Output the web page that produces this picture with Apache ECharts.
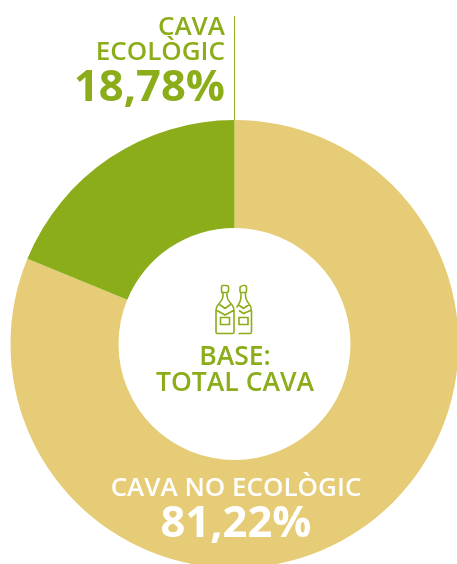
<!DOCTYPE html>
<html>
<head>
<meta charset="utf-8">
<style>
  html, body { margin: 0; padding: 0; background: #fff; }
  #chart { width: 457px; height: 564px; }
</style>
<script src="https://cdn.jsdelivr.net/npm/echarts@6/dist/echarts.min.js"></script>
</head>
<body>
<div id="chart"></div>
<script>
var categories = ['CAVA NO ECOLÒGIC', 'CAVA ECOLÒGIC']
var values = [81.22, 18.78]
var valueLabels = ['81,22%', '18,78%']
var baseLines = ['BASE:', 'TOTAL CAVA']

var GREEN = '#8bad1a'
var SAND = '#e6cc76'
var FONT = '"Open Sans", sans-serif'

// icon outlines, local coords start at the top left of the icon
var bottleLeft = 'M6 0.5h4.5q2 0 2 2v3q0 2-1.5 2v3.5q0 3 3 6.5 4 4 4 8v21.5q0 1.5-1.5 1.5h-15q-1.5 0-1.5-1.5v-21.5q0-4 4-8 3-3.5 3-6.5v-3.5q-1.5 0-1.5-2v-3q0-2 1.5-2z' +
  'M5 7.5h6M3.5 19.5l5.5 4 5.5-4M1 25.5l8 4.5 8.5-4.5' +
  'M4.5 32.5h9v7h-9z'
var bottleRight = 'M6.5 0.5h2q2 0 2 2v3q0 2-1 2v3.5q0 3 2.5 6.5 3.5 4 3.5 8v21.5q0 1.5-1.5 1.5h-11.5' +
  'M5.5 7.5h4M0.5 22.5q2.5-3 3.5-6 1-3 1-5v-3.5q-1-0.5-1-2v-3q0-2 2.5-2' +
  'M2 19.5l5.5 4 5.5-4M3 25.5l4.5 3 8-3.5M3 32.5h9v7h-9z'
echarts.graphic.registerShape('bottleLeft', echarts.graphic.extendPath(bottleLeft))
echarts.graphic.registerShape('bottleRight', echarts.graphic.extendPath(bottleRight))

var chart = echarts.init(document.getElementById('chart'), null, { renderer: 'canvas' })

chart.setOption({
  animation: false,
  backgroundColor: '#fff',
  series: [{
    type: 'pie',
    z: 1,
    center: [234.5, 344],
    radius: [116, 224],
    startAngle: 90,
    clockwise: true,
    silent: true,
    label: { show: false },
    labelLine: { show: false },
    data: categories.map(function(name, i) {
      return { name: name, value: values[i], itemStyle: { color: i === 0 ? SAND : GREEN } }
    })
  }],
  graphic: [
    { type: 'line', z: 10, shape: { x1: 234.5, y1: 16, x2: 234.5, y2: 120 }, style: { stroke: GREEN, lineWidth: 1 } },
    { type: 'text', z: 10, x: 225, y: 14.5, style: { text: categories[1].split(' ')[0], font: '600 26px ' + FONT, fill: GREEN, align: 'right' } },
    { type: 'text', z: 10, x: 225, y: 39.5, style: { text: categories[1].split(' ')[1], font: '600 26px ' + FONT, fill: GREEN, align: 'right' } },
    { type: 'text', z: 10, x: 225, y: 67, style: { text: valueLabels[1], font: '700 43.5px ' + FONT, fill: GREEN, align: 'right' } },
    { type: 'bottleLeft', z: 10, x: 216, y: 285, style: { fill: 'none', stroke: GREEN, lineWidth: 1.6 } },
    { type: 'bottleRight', z: 10, x: 236, y: 285, style: { fill: 'none', stroke: GREEN, lineWidth: 1.6 } },
    { type: 'text', z: 10, x: 235, y: 344, style: { text: baseLines[0], font: '600 26.5px ' + FONT, fill: GREEN, align: 'center' } },
    { type: 'text', z: 10, x: 235, y: 370, style: { text: baseLines[1], font: '600 26.5px ' + FONT, fill: GREEN, align: 'center' } },
    { type: 'text', z: 10, x: 236, y: 476, style: { text: categories[0], font: '600 26px ' + FONT, fill: '#fff', align: 'center' } },
    { type: 'text', z: 10, x: 236, y: 503, style: { text: valueLabels[0], font: '700 43.5px ' + FONT, fill: '#fff', align: 'center' } }
  ]
})
</script>
</body>
</html>
